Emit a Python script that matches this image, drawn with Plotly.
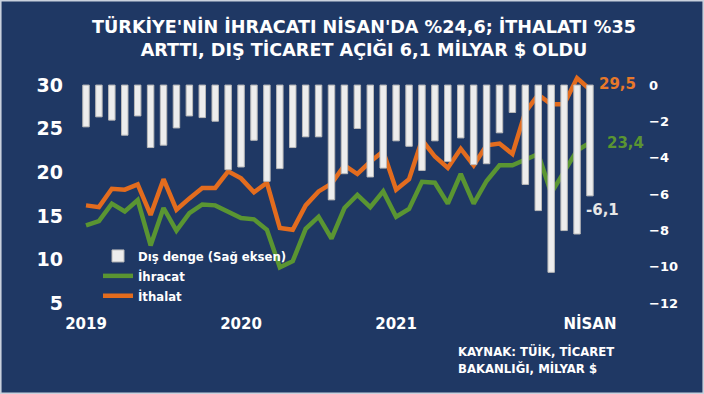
import plotly.graph_objects as go

aylar = ["2019-01","2019-02","2019-03","2019-04","2019-05","2019-06","2019-07","2019-08","2019-09","2019-10","2019-11","2019-12",
         "2020-01","2020-02","2020-03","2020-04","2020-05","2020-06","2020-07","2020-08","2020-09","2020-10","2020-11","2020-12",
         "2021-01","2021-02","2021-03","2021-04","2021-05","2021-06","2021-07","2021-08","2021-09","2021-10","2021-11","2021-12",
         "2022-01","2022-02","2022-03","2022-04"]

ihracat = [13.9, 14.4, 16.4, 15.5, 16.8, 11.6, 15.9, 13.3, 15.3, 16.3, 16.2, 15.5,
           14.75, 14.6, 13.4, 9.1, 9.8, 13.5, 14.9, 12.4, 15.9, 17.4, 16.0, 17.8,
           14.9, 15.8, 18.9, 18.8, 16.4, 19.8, 16.4, 19.0, 20.8, 20.8, 21.5, 22.1,
           17.6, 20.1, 22.5, 23.4]

ithalat = [16.2, 16.0, 18.1, 18.0, 18.6, 15.1, 19.2, 15.7, 17.0, 18.2, 18.2, 20.1,
           19.3, 17.7, 18.8, 13.6, 13.4, 16.2, 17.8, 18.7, 20.8, 19.8, 21.2, 22.4,
           18.0, 19.2, 23.7, 21.8, 20.5, 22.7, 20.8, 23.1, 23.3, 22.1, 26.9, 28.9,
           27.8, 27.8, 30.8, 29.5]

dis_denge = [-2.3, -1.75, -1.93, -2.76, -1.7, -3.44, -3.31, -2.36, -1.7, -1.79, -1.99, -4.66,
             -4.51, -3.04, -5.3, -4.6, -3.44, -2.85, -2.85, -6.32, -4.88, -2.39, -5.06, -4.57,
             -3.07, -3.37, -4.7, -3.07, -4.2, -2.91, -4.38, -4.33, -2.63, -1.51, -5.47, -6.91,
             -10.31, -8.01, -8.2, -6.1]

x_tick_vals = ["2019-01", "2020-01", "2021-01", "2022-04"]
x_tick_text = ["2019", "2020", "2021", "NİSAN"]
sol_ticks = [5, 10, 15, 20, 25, 30]
sag_ticks = [-12, -10, -8, -6, -4, -2, 0]

BG = "#1F3864"
ORANGE = "#E36C1E"
GREEN = "#5A9532"
SANS = "DejaVu Sans"
COND = "DejaVu Sans Condensed"

# plot area geometry (px)
L, R, T, B = 70, 645, 72, 310
PW, PH = R - L, B - T

fig = go.Figure()
fig.add_trace(go.Bar(
    x=aylar, y=dis_denge, yaxis="y2", name="Dış denge (Sağ eksen)",
    marker=dict(color="#EDEDED", line=dict(color="#B9B9B9", width=1)),
    width=0.5,
))
fig.add_trace(go.Scatter(
    x=aylar, y=ihracat, mode="lines", name="İhracat",
    line=dict(color=GREEN, width=4.5),
))
fig.add_trace(go.Scatter(
    x=aylar, y=ithalat, mode="lines", name="İthalat",
    line=dict(color=ORANGE, width=4.5),
))

fig.add_annotation(x=aylar[-1], y=ithalat[-1], text="29,5", showarrow=False,
                   xanchor="left", xshift=7, yshift=5,
                   font=dict(family=SANS, size=15, color="#E8782A", weight="bold"))
fig.add_annotation(x=aylar[-1], y=ihracat[-1], text="23,4", showarrow=False,
                   xanchor="left", xshift=15, yshift=0,
                   font=dict(family=SANS, size=15, color=GREEN, weight="bold"))
fig.add_annotation(x=aylar[-1], y=dis_denge[-1], yref="y2", text="-6,1", showarrow=False,
                   xanchor="left", yanchor="top", xshift=-6, yshift=-3,
                   font=dict(family=SANS, size=15, color="#E6E6E6", weight="bold"))

fig.add_annotation(xref="paper", yref="paper", x=(456 - L) / PW, y=-(360 - B) / PH,
                   text="KAYNAK: TÜİK, TİCARET<br>BAKANLIĞI, MİLYAR $", showarrow=False,
                   xanchor="left", yanchor="middle", align="left",
                   font=dict(family=COND, size=13, color="white", weight="bold"))

fig.update_layout(
    width=704, height=394,
    paper_bgcolor=BG, plot_bgcolor=BG,
    margin=dict(l=L, r=704 - R, t=T, b=394 - B, autoexpand=False),
    title=dict(text="TÜRKİYE'NİN İHRACATI NİSAN'DA %24,6; İTHALATI %35<br>ARTTI, DIŞ TİCARET AÇIĞI 6,1 MİLYAR $ OLDU",
               x=364 / 704, xanchor="center", xref="container", y=1 - 33 / 394, yanchor="middle", yref="container",
               font=dict(family=SANS, size=17.6, color="white", weight="bold")),
    showlegend=True,
    legend=dict(x=(98 - L) / PW, y=1 - (241 - T) / PH, xanchor="left", yanchor="top",
                bgcolor="rgba(0,0,0,0)", font=dict(family=COND, size=13, color="white", weight="bold"),
                traceorder="normal", itemwidth=30, tracegroupgap=0),
    bargap=0.5,
    xaxis=dict(type="category", range=[-1.238, 43.26], tickmode="array", tickvals=x_tick_vals, ticktext=x_tick_text,
               showgrid=False, zeroline=False, showline=False, ticks="", ticklabelstandoff=3,
               tickfont=dict(family=SANS, size=15, color="white", weight="bold")),
    yaxis=dict(range=[4.2, 31.5], tickmode="array", tickvals=sol_ticks, showgrid=False, zeroline=False,
               showline=False, ticks="", ticklabelstandoff=6,
               tickfont=dict(family=SANS, size=19, color="white", weight="bold")),
    yaxis2=dict(range=[-12.384, 0.72], overlaying="y", side="right", tickmode="array", tickvals=sag_ticks,
                showgrid=False, zeroline=False, showline=False, ticks="", ticklabelstandoff=3,
                tickfont=dict(family=SANS, size=13, color="white", weight="bold")),
    shapes=[dict(type="rect", xref="paper", yref="paper", x0=-L / PW + 0.001, x1=1 + (704 - R) / PW - 0.001,
                 y0=-(394 - B) / PH + 0.002, y1=1 + T / PH - 0.002, line=dict(color="#C9D1DD", width=2), layer="above")],
)

fig.write_html("out.html", config={"displayModeBar": False},
               post_script="document.body.style.margin='0';document.body.style.overflow='hidden';")
